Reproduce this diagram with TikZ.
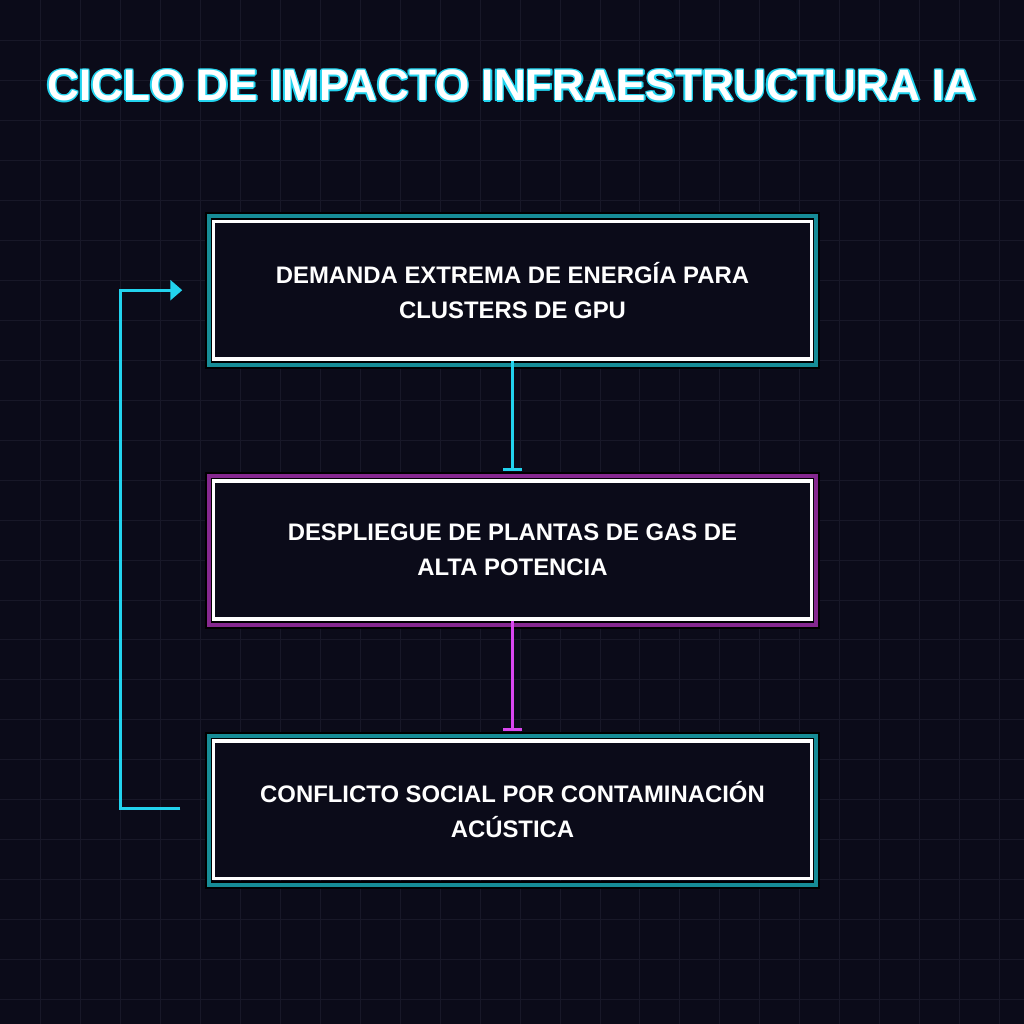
\documentclass[tikz,border=0pt]{standalone}
\usepackage{fontspec}
\setmainfont{Liberation Sans}
\usetikzlibrary{arrows.meta,positioning}
\definecolor{bgnavy}{HTML}{0B0B19}
\definecolor{gridline}{HTML}{181828}
\definecolor{neoncyan}{HTML}{22D3EE}
\definecolor{neonteal}{HTML}{168C96}
\definecolor{neonpink}{HTML}{D946EF}
\definecolor{deeppink}{HTML}{86288F}

\tikzset{
  stagebox/.style={draw=white, line width=2.4, fill=bgnavy, minimum width=149.5mm, minimum height=34.5mm,
    align=center, text=white, font=\fontsize{17}{25}\selectfont\bfseries},
  tealglow/.style={double=neonteal, draw=black, double distance=3, line width=1.4},
  pinkglow/.style={double=deeppink, draw=black, double distance=3, line width=1.4},
  flow/.style={line width=2, -{Bar[width=5mm,line width=2]}},
}

\begin{document}
\begin{tikzpicture}[x=0.25mm,y=-0.25mm]
  % background and grid
  \fill[bgnavy] (0,0) rectangle (1024,1024);
  \foreach \g in {40,80,...,1000} {
    \draw[gridline, line width=0.6] (\g,0) -- (\g,1024);
    \draw[gridline, line width=0.6] (0,\g) -- (1024,\g);
  }
  \useasboundingbox (0,0) rectangle (1024,1024);

  % title with outline
  \foreach \dx/\dy in {-1.5/0,1.5/0,0/-1.5,0/1.5,-1.1/-1.1,1.1/1.1,-1.1/1.1,1.1/-1.1}
    \node[text=neoncyan, font=\fontsize{31.4}{38}\selectfont\bfseries] at (512+\dx,85+\dy) {CICLO DE IMPACTO INFRAESTRUCTURA IA};
  \node (title) [text=white, font=\fontsize{31.4}{38}\selectfont\bfseries] at (512,85) {CICLO DE IMPACTO INFRAESTRUCTURA IA};

  % stages
  \draw[tealglow] (209,216) rectangle (816,365);
  \node (demand) [stagebox] at (512.5,290) {DEMANDA EXTREMA DE ENERGÍA PARA\\CLUSTERS DE GPU};
  \draw[pinkglow] (209,476) rectangle (816,625);
  \node (plants) [stagebox] at (512.5,550) {DESPLIEGUE DE PLANTAS DE GAS DE\\ALTA POTENCIA};
  \draw[tealglow] (209,736) rectangle (816,885);
  \node (conflict) [stagebox] at (512.5,810) {CONFLICTO SOCIAL POR CONTAMINACIÓN\\ACÚSTICA};

  % connectors
  \coordinate (loopin) at (182,290);
  \coordinate (loopout) at (180,809);
  \draw[flow, neoncyan] (demand.south) -- ([yshift=-27.5mm]demand.south);
  \draw[flow, neonpink] (plants.south) -- ([yshift=-27.5mm]plants.south);
  \draw[neoncyan, line width=2, -{Triangle[length=3mm,width=5mm]}]
    (loopout) -- (120,809) -- (120,290) -- (loopin);
\end{tikzpicture}
\end{document}
